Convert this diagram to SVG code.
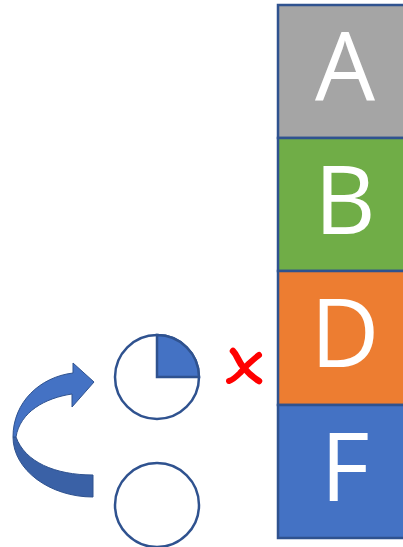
<svg xmlns="http://www.w3.org/2000/svg" width="403" height="547" viewBox="0 0 403 547">
<style>
.box{stroke:#2F528F;stroke-width:2.5}
.lbl{font-family:"Open Sans","Liberation Sans",sans-serif;font-size:95px;fill:#FFFFFF;text-anchor:middle}
.circ{fill:#FFFFFF;stroke:#2F528F;stroke-width:2.5}
</style>
<rect x="0" y="0" width="403" height="547" fill="#FFFFFF"/>
<g id="boxA"><rect class="box" x="278" y="5" width="135" height="133" fill="#A5A5A5"/><text class="lbl" x="345" y="101">A</text></g>
<g id="boxB"><rect class="box" x="278" y="138" width="135" height="133" fill="#70AD47"/><text class="lbl" x="345" y="234">B</text></g>
<g id="boxD"><rect class="box" x="278" y="271" width="135" height="134" fill="#ED7D31"/><text class="lbl" x="345" y="367">D</text></g>
<g id="boxF"><rect class="box" x="278" y="405" width="135" height="133" fill="#4472C4"/><text class="lbl" x="345" y="501">F</text></g>
<g id="pie">
<circle class="circ" cx="157" cy="377" r="42"/>
<path d="M157,377 L157,335 A42,42 0 0 1 199,377 Z" fill="#4472C4" stroke="#2F528F" stroke-width="2.5"/>
</g>
<g id="circle2"><circle class="circ" cx="157" cy="505" r="42"/></g>
<g id="cross" fill="none" stroke="#FF0000" stroke-linecap="round">
<path d="M233,351 C238,356 238,362 244,368 C249,374 254,378 259,381" stroke-width="6.5"/>
<path d="M259,355 C251,361 245,367 240,373 C236,377 233,380 229,381" stroke-width="6"/>
</g>
<g id="connectors">
<path d="M13,437 C13,470 50,497 93,497 L93,475 C55,475 25,462 16,437 Z" fill="#3A61A6" stroke="#2F528F" stroke-width="1"/>
<path d="M13,437 C13,402 40,377 73,373 L73,363 L94,382 L72,407 L72,394 C45,398 20,412 16,437 Z" fill="#4472C4" stroke="#2F528F" stroke-width="1"/>
</g>
</svg>
